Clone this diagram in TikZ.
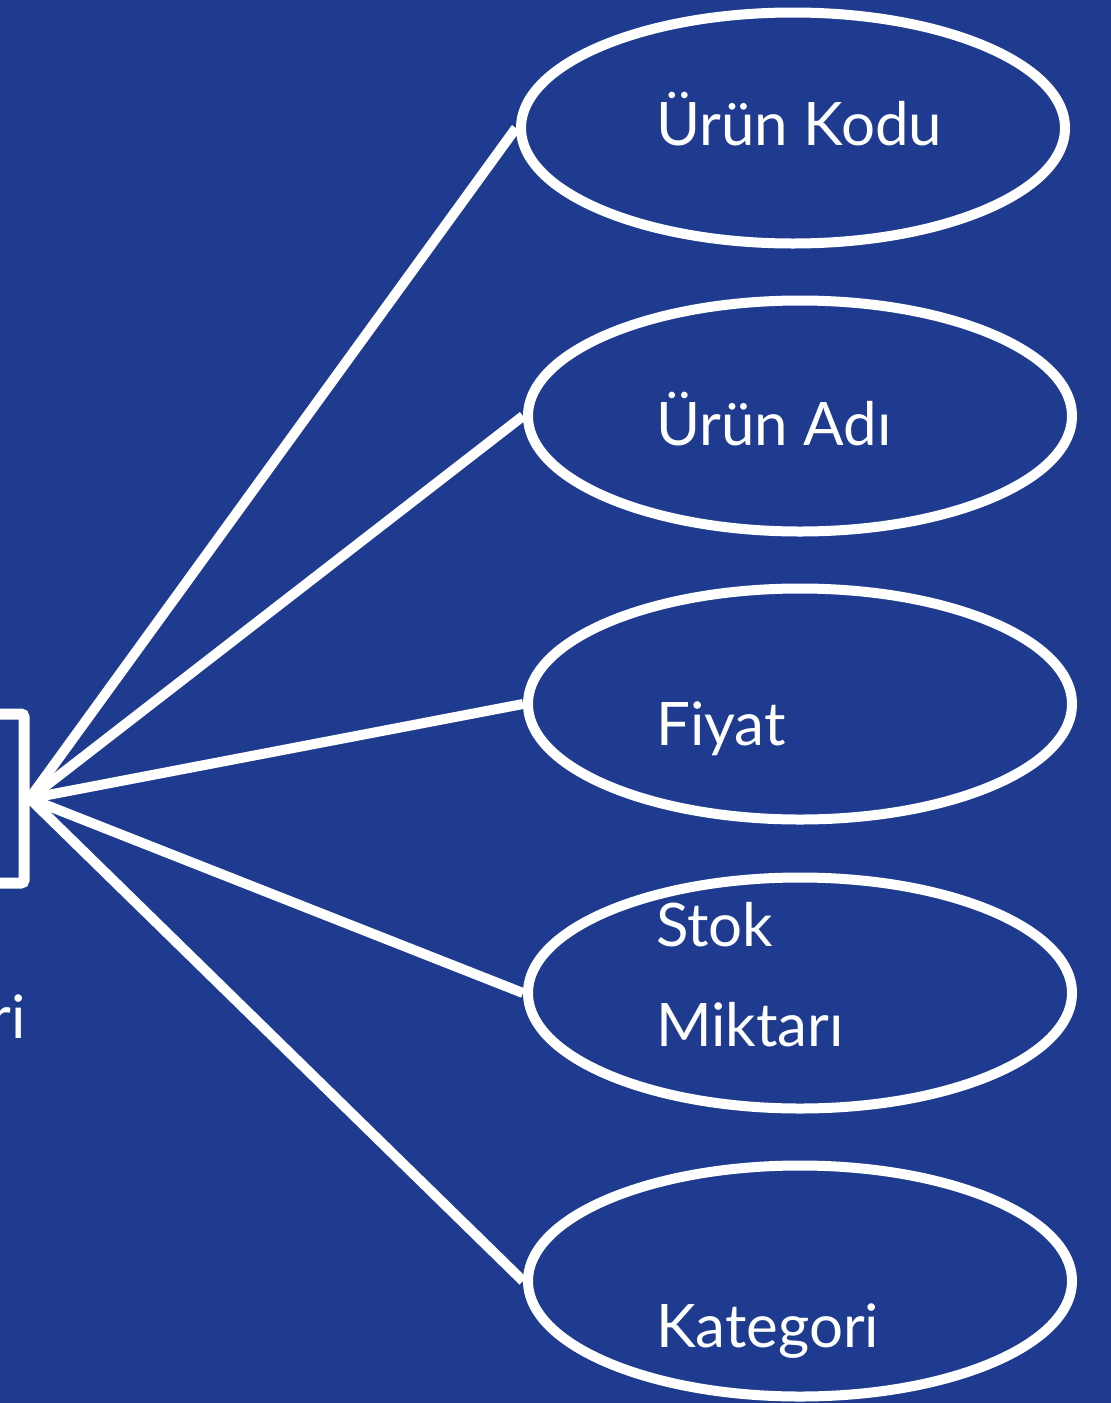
\documentclass[tikz,border=0pt]{standalone}
\usepackage{fontspec}
\setmainfont{Lato}
\usetikzlibrary{shapes.geometric}
\definecolor{bgblue}{RGB}{30,59,143}
\begin{document}
\begin{tikzpicture}[x=1pt,y=-1pt,
  attr/.style={draw=white,line width=10pt,ellipse,inner sep=0pt,minimum width=544pt,minimum height=231pt},
  lbl/.style={text=white,anchor=base west,inner sep=0pt,font=\fontsize{60}{72}\selectfont},
  conn/.style={draw=white,line width=10pt},
  entity/.style={draw=white,line width=11pt,rounded corners=3pt,minimum width=124pt,minimum height=169pt,inner sep=0pt}]
\fill[bgblue] (0,0) rectangle (1111,1403);
\useasboundingbox (0,0) rectangle (1111,1403);
\node[entity] (ent) at (-38,798.5) {};
\node[lbl,anchor=base east] (entname) at (26,1038) {ri};
\node[attr] (a1) at (793,128) {};
\node[attr] (a2) at (800,416) {};
\node[attr] (a3) at (800,704) {};
\node[attr] (a4) at (800,993) {};
\node[attr] (a5) at (800,1281) {};
\node[lbl] (t1) at (656,145) {Ürün Kodu};
\node[lbl] (t2) at (656,445) {Ürün Adı};
\node[lbl] (t3) at (656,745) {Fiyat};
\node[lbl] (t4a) at (656,946) {Stok};
\node[lbl] (t4b) at (656,1046) {Miktarı};
\node[lbl] (t5) at (656,1347) {Kategori};
\foreach \a in {a1,a2,a3,a4,a5} \draw[conn] (ent.east) -- (\a.west);
\end{tikzpicture}
\end{document}
